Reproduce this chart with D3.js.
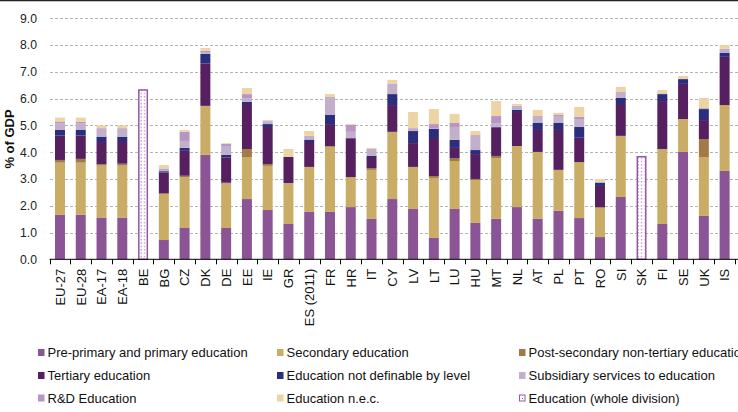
<!DOCTYPE html>
<html><head><meta charset="utf-8">
<script src="https://cdn.jsdelivr.net/npm/d3@7"></script>
<style>
body{margin:0;background:#fff;}
svg{display:block;font-family:"Liberation Sans",Arial,sans-serif;}
</style></head>
<body><svg id="c" width="738" height="412"></svg>
<script>
const categories = ["EU-27","EU-28","EA-17","EA-18","BE","BG","CZ","DK","DE","EE","IE","GR","ES (2011)","FR","HR","IT","CY","LV","LT","LU","HU","MT","NL","AT","PL","PT","RO","SI","SK","FI","SE","UK","IS"];
const primary     = [1.66,1.66,1.56,1.56,null,0.72,1.17,3.90,1.17,2.25,1.84,1.32,1.77,1.77,1.95,1.51,2.25,1.88,0.80,1.88,1.36,1.51,1.95,1.51,1.81,1.54,0.83,2.33,null,1.32,4.01,1.62,3.30];
const secondary   = [1.95,1.95,1.94,1.94,null,1.72,1.90,1.83,1.66,1.57,1.65,1.53,1.68,2.43,1.12,1.83,2.51,1.57,2.24,1.79,1.60,2.27,2.28,2.50,1.53,2.09,1.09,2.28,null,2.80,1.23,2.20,2.46];
const postSecondary=[0.10,0.14,0.05,0.07,null,0.02,0.05,0.00,0.03,0.30,0.07,0.00,0.00,0.03,0.00,0.07,0.00,0.00,0.07,0.11,0.04,0.08,0.00,0.00,0.00,0.00,0.03,0.00,null,0.00,0.00,0.67,0.00];
const tertiary    = [0.91,0.87,0.83,0.81,null,0.78,0.93,1.58,0.94,1.68,1.38,0.97,0.93,0.82,1.44,0.41,1.00,0.89,1.42,0.38,0.93,1.06,1.27,0.82,1.49,0.91,0.79,1.19,null,1.79,1.31,0.71,1.80];
const notDefinable= [0.21,0.21,0.20,0.20,null,0.05,0.11,0.36,0.10,0.08,0.11,0.00,0.09,0.34,0.03,0.05,0.41,0.45,0.34,0.30,0.15,0.03,0.08,0.26,0.26,0.40,0.11,0.23,null,0.26,0.18,0.41,0.15];
const subsidiary  = [0.25,0.24,0.30,0.30,null,0.05,0.26,0.07,0.33,0.12,0.10,0.00,0.14,0.67,0.22,0.25,0.38,0.11,0.01,0.48,0.56,0.12,0.15,0.23,0.26,0.30,0.04,0.22,null,0.03,0.00,0.04,0.15];
const rdEducation = [0.05,0.06,0.02,0.02,null,0.05,0.34,0.05,0.08,0.17,0.03,0.00,0.00,0.00,0.26,0.00,0.00,0.00,0.17,0.15,0.00,0.28,0.00,0.03,0.04,0.08,0.00,0.00,null,0.00,0.00,0.00,0.00];
const educationNec= [0.16,0.16,0.10,0.10,null,0.13,0.07,0.10,0.03,0.23,0.02,0.30,0.18,0.11,0.03,0.04,0.15,0.60,0.56,0.34,0.15,0.56,0.07,0.23,0.08,0.37,0.11,0.19,null,0.12,0.12,0.38,0.14];
const wholeDivision=[null,null,null,null,6.35,null,null,null,null,null,null,null,null,null,null,null,null,null,null,null,null,null,null,null,null,null,null,null,3.86,null,null,null,null];
const yTicks = [0,1,2,3,4,5,6,7,8,9];
const seriesNames = ["Pre-primary and primary education","Secondary education","Post-secondary non-tertiary education","Tertiary education","Education not definable by level","Subsidiary services to education","R&D Education","Education n.e.c."];
const seriesColors = ["#8a5495","#c9ac66","#a27a47","#561f5f","#2b2e7d","#c1afcb","#b995c3","#ecd4a4"];
const wholeName = "Education (whole division)";
const wholeColor = "#9457a3";

const seriesData = [primary,secondary,postSecondary,tertiary,notDefinable,subsidiary,rdEducation,educationNec];
const svg = d3.select("#c");
const W=738,H=412;
const x = d3.scaleBand().domain(categories).range([49.6,735]).paddingInner(0.52).paddingOuter(0.26);
const y = d3.scaleLinear().domain([0,9]).range([259.3,18.3]);

// top frame line
svg.append("line").attr("x1",0).attr("x2",W).attr("y1",0.5).attr("y2",0.5).attr("stroke","#222").attr("stroke-width",1.5);

// pattern
const defs = svg.append("defs");
const pat = defs.append("pattern").attr("id","dots").attr("patternUnits","userSpaceOnUse").attr("width",3.5).attr("height",3.4);
pat.append("rect").attr("width",3.5).attr("height",3.4).attr("fill","#fff");
pat.append("rect").attr("x",0.6).attr("y",1).attr("width",1).attr("height",1.2).attr("fill",wholeColor);

// gridlines
svg.append("g").selectAll("line").data(yTicks.filter(d=>d>0)).join("line")
  .attr("x1",50).attr("x2",738).attr("y1",d=>Math.round(y(d))+0.5).attr("y2",d=>Math.round(y(d))+0.5)
  .attr("stroke","#b3b3b3").attr("stroke-dasharray","3,2").attr("stroke-width",1);

// y axis labels
const yAxis = d3.axisLeft(y).tickValues(yTicks).tickFormat(d3.format(".1f")).tickSize(0).tickPadding(13);
const yg = svg.append("g").attr("transform","translate(50,0)").call(yAxis);
yg.select(".domain").remove();
yg.selectAll("text").attr("font-size",12.2).attr("fill","#222").attr("font-family","Liberation Sans, Arial, sans-serif");

// y title
svg.append("text").attr("transform","translate(14,139) rotate(-90)").attr("text-anchor","middle")
  .attr("font-size",13).attr("font-weight","bold").attr("fill","#111").text("% of GDP");

// stacks
const table = categories.map((c,i)=>{const o={cat:c}; seriesData.forEach((s,k)=>o["s"+k]=s[i]||0); return o;});
const stack = d3.stack().keys(seriesData.map((s,k)=>"s"+k));
const stacked = stack(table);
svg.append("g").selectAll("g").data(stacked).join("g").attr("fill",(d,i)=>seriesColors[i])
  .selectAll("rect").data(d=>d.filter(p=>p[1]-p[0]>0)).join("rect")
  .attr("x",d=>x(d.data.cat)).attr("width",x.bandwidth())
  .attr("y",d=>y(d[1])).attr("height",d=>y(d[0])-y(d[1]));

// whole division
svg.append("g").selectAll("rect").data(categories.map((c,i)=>({c,v:wholeDivision[i]})).filter(d=>d.v!=null)).join("rect")
  .attr("x",d=>x(d.c)+0.75).attr("width",x.bandwidth()-1.5)
  .attr("y",d=>y(d.v)+0.75).attr("height",d=>y(0)-y(d.v)-0.75)
  .attr("fill","url(#dots)").attr("stroke",wholeColor).attr("stroke-width",1.5);

// x axis
const xg = svg.append("g").attr("transform",`translate(0,${y(0)})`);
xg.append("line").attr("x1",49.6).attr("x2",738).attr("stroke","#000").attr("stroke-width",1);
const bounds = categories.map(c=>x(c)-x.step()*x.paddingInner()/2).concat([x(categories[categories.length-1])+x.bandwidth()+x.step()*x.paddingInner()/2]);
xg.selectAll("line.t").data(bounds).join("line").attr("class","t")
  .attr("x1",d=>Math.round(d)+0.5).attr("x2",d=>Math.round(d)+0.5).attr("y1",0).attr("y2",5).attr("stroke","#000");
xg.selectAll("text").data(categories).join("text")
  .attr("transform",d=>`translate(${x(d)+x.bandwidth()/2+4.8},9.4) rotate(-90)`)
  .attr("text-anchor","end").attr("font-size",13).attr("fill","#111").text(d=>d);

// legend
const legendItems = seriesNames.map((n,i)=>({n,c:seriesColors[i],whole:false})).concat([{n:wholeName,c:wholeColor,whole:true}]);
const colX=[38,277,519], rowY=[352.5,375.5,398];
const lg = svg.append("g").selectAll("g").data(legendItems).join("g")
  .attr("transform",(d,i)=>`translate(${colX[i%3]},${rowY[Math.floor(i/3)]})`);
lg.each(function(d){
  const g=d3.select(this);
  if(d.whole){
    g.append("rect").attr("x",0.5).attr("y",-3).attr("width",5.5).attr("height",6).attr("fill","#fff").attr("stroke",d.c).attr("stroke-width",1);
    g.append("rect").attr("x",3).attr("y",0).attr("width",1).attr("height",1).attr("fill",d.c);
  } else {
    g.append("rect").attr("x",0).attr("y",-3.5).attr("width",6.5).attr("height",7).attr("fill",d.c);
  }
  g.append("text").attr("x",9.5).attr("y",4.8).attr("font-size",13).attr("fill","#111").text(d.n);
});
</script></body></html>
